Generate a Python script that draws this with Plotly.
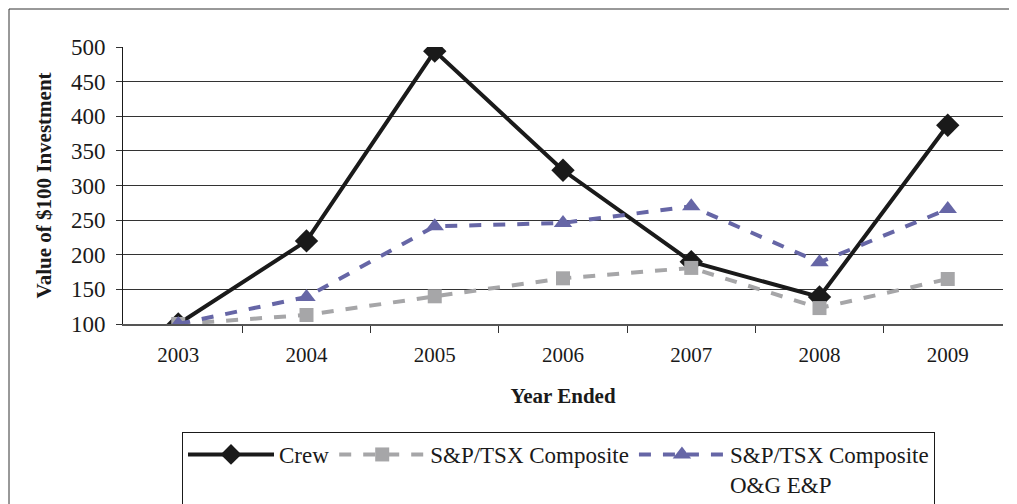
import plotly.graph_objects as go

years = ["2003", "2004", "2005", "2006", "2007", "2008", "2009"]
crew = [100, 220, 494, 322, 190, 139, 387]
sptsx = [100, 113, 140, 166, 181, 123, 165]
oge = [100, 139, 241, 246, 270, 189, 266]
y_ticks = [100, 150, 200, 250, 300, 350, 400, 450, 500]

W, H = 1017, 504
OFF = 8  # page body margin offset
# target pixel positions in the screenshot
PL, PR, PT, PB = 123, 1003, 47, 324
L, T = PL - OFF, PT - OFF
R = W - (PR - OFF)
B = H - (PB - OFF)
pw, ph = PR - PL, PB - PT


def px_x(x):
    return (x - PL) / pw


def px_y(y):
    return (PB - y) / ph


fig = go.Figure()
fig.add_trace(go.Scatter(x=years, y=crew, name="Crew", mode="lines+markers",
                         line=dict(color="#1a1a1a", width=4),
                         marker=dict(symbol="diamond", size=18, color="#1a1a1a")))
fig.add_trace(go.Scatter(x=years, y=sptsx, name="S&P/TSX Composite", mode="lines+markers",
                         line=dict(color="#a6a6a8", width=4, dash="dash"),
                         marker=dict(symbol="square", size=14, color="#a6a6a8")))
fig.add_trace(go.Scatter(x=years, y=oge, name="S&P/TSX Composite<br>O&G E&P", mode="lines+markers",
                         line=dict(color="#6666a6", width=4, dash="dash"),
                         marker=dict(symbol="triangle-up", size=16, color="#6666a6")))

font = "Liberation Serif, Times New Roman, serif"
fig.update_layout(
    width=W, height=H,
    margin=dict(l=L, r=R, t=T, b=B, autoexpand=False),
    paper_bgcolor="white", plot_bgcolor="white",
    font=dict(family=font, color="#1a1a1a", size=22),
    showlegend=True,
    legend=dict(orientation="h", x=px_x(182), y=px_y(432),
                xanchor="left", yanchor="top", bordercolor="#1a1a1a", borderwidth=1,
                font=dict(size=23, family=font), itemwidth=86, tracegroupgap=0,
                valign="top"),
    xaxis=dict(type="category", tickson="boundaries", ticks="outside", ticklen=7,
               tickcolor="#333", showgrid=False, showline=True, linecolor="#555",
               linewidth=2, tickfont=dict(size=21), automargin=False,
               ticklabelstandoff=11,
               title=dict(text="<b>Year Ended</b>", font=dict(size=21), standoff=22)),
    yaxis=dict(range=[100, 500], tickvals=y_ticks, ticks="outside", ticklen=6,
               tickcolor="#333", showgrid=True, gridcolor="#333", gridwidth=1,
               showline=True, linecolor="#1a1a1a", linewidth=1, zeroline=False,
               tickfont=dict(size=23), automargin=False, ticklabelstandoff=6,
               title=dict(text="<b>Value of $100 Investment</b>", font=dict(size=21), standoff=13)),
)

# outer frame (left/top edges just inside the canvas)
fig.add_shape(type="rect", xref="paper", yref="paper",
              x0=px_x(OFF + 1), x1=px_x(1012), y0=px_y(530), y1=px_y(OFF + 1),
              line=dict(color="#333", width=1), layer="below")

fig.write_html("out.html")
